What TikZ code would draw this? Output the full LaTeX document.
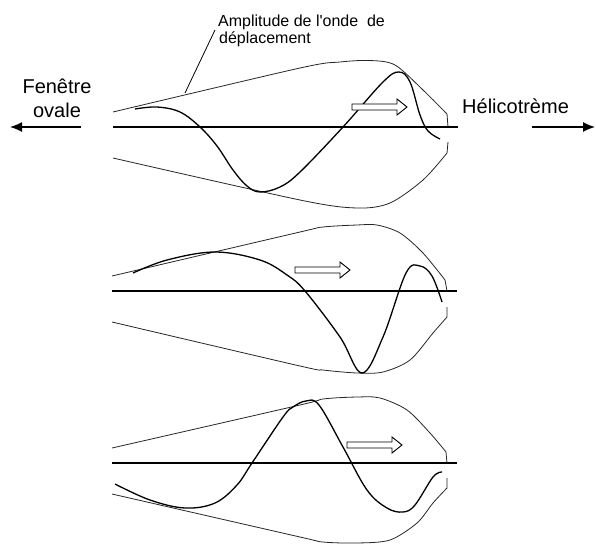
\documentclass[tikz,border=0pt]{standalone}
\usepackage{fontspec}
\setmainfont{Liberation Sans}
\usetikzlibrary{arrows.meta}
\tikzset{
  envline/.style={line width=0.8pt, black!85},
  waveline/.style={line width=1.3pt, black, line join=round},
  axisline/.style={line width=1.3pt, black},
  bigarrow/.style={line width=1.3pt, -{Latex[length=12pt,width=10pt]}},
  biglabel/.style={font=\fontsize{20}{24}\selectfont, inner sep=0pt},
  smalllabel/.style={font=\fontsize{16}{18}\selectfont, inner sep=0pt},
  harrow/.pic={\draw[line width=0.9pt, black, fill=white] (0,3) -- (45,3) -- (45,8) -- (55,0) -- (45,-8) -- (45,-3) -- (0,-3) -- cycle;}
}
\begin{document}
\begin{tikzpicture}[x=1pt,y=-1pt]
\useasboundingbox (0,0) rectangle (596,544);

% labels
\node[biglabel, anchor=base] (fen) at (57,93) {Fenêtre};
\node[biglabel, anchor=base] (ova) at (57,117) {ovale};
\node[biglabel, anchor=base west] (heli) at (462,113) {Hélicotrème};
\node[smalllabel, anchor=base west] (ampl) at (218,26) {Amplitude de l\textquotesingle onde\ \ de};
\node[smalllabel, anchor=base west] (depl) at (219,43) {déplacement};

% side arrows
\coordinate (la1) at (81,127); \coordinate (la2) at (10,127);
\coordinate (ra1) at (532,127); \coordinate (ra2) at (595,127);
\draw[bigarrow] (la1) -- (la2);
\draw[bigarrow] (ra1) -- (ra2);

% leader line
\coordinate (lead1) at (185,93); \coordinate (lead2) at (215,30);
\draw[line width=0.8pt] (lead1) -- (lead2);

% ---------- panel 1 ----------
\draw[axisline] (113,127) -- (458,127);
\draw[envline] plot[smooth, tension=0.5] coordinates {(113,112) (300,68) (340,62) (370,60.5) (395,65) (423,90) (447,114)} -- (448,127);
\draw[envline] plot[smooth, tension=0.5] coordinates {(113,158) (300,200) (357,208) (390,203) (423,180) (447,153)} -- (448,142);
\draw[waveline] plot[smooth, tension=0.6] coordinates {(135,109) (157,107) (180,112) (200,127) (217,146) (233,170) (247,186) (260,192) (280,187) (300,172) (343,127) (383,82) (399,72) (410,82) (420,115) (428,131) (440,139)};
\pic at (352,107) {harrow};

% ---------- panel 2 ----------
\draw[axisline] (112,291) -- (457,291);
\draw[envline] plot[smooth, tension=0.5] coordinates {(112,276) (300,232) (323,227) (357,225) (377,225) (400,233) (423,253) (445,280)} -- (447,291);
\draw[envline] plot[smooth, tension=0.5] coordinates {(112,322) (300,366) (323,370) (357,373) (383,372) (410,360) (433,333) (447,317)} -- (447,307);
\draw[waveline] plot[smooth, tension=0.6] coordinates {(133,273) (167,260) (215,252) (260,260) (287,275) (305,291) (340,337) (362,373) (383,337) (406,273) (420,266) (432,276) (442,302)};
\pic at (295,270) {harrow};

% ---------- panel 3 ----------
\draw[axisline] (112,463) -- (457,463);
\draw[envline] plot[smooth, tension=0.5] coordinates {(112,448) (300,405) (323,399) (357,397) (380,398) (407,410) (430,433) (446,452)} -- (447,463);
\draw[envline] plot[smooth, tension=0.5] coordinates {(112,494) (300,537) (323,542) (357,543) (390,540) (417,523) (433,503) (447,488)} -- (447,478);
\draw[waveline] plot[smooth, tension=0.6] coordinates {(115,484) (150,500) (185,508) (215,503) (237,485) (252,463) (283,417) (293,407) (306,401) (319,405) (343,447) (367,490) (387,508) (403,512) (415,505) (433,477) (442,472)};
\pic at (347,445) {harrow};

\end{tikzpicture}
\end{document}
